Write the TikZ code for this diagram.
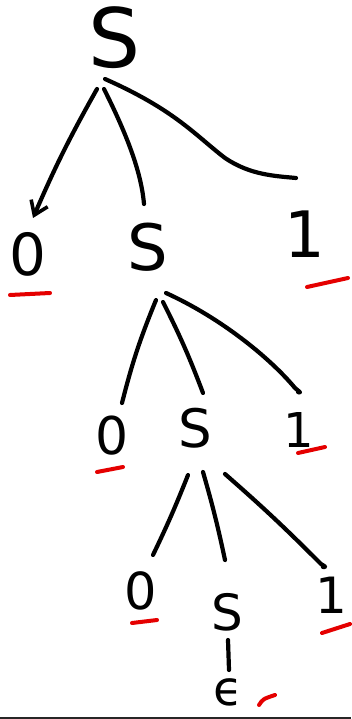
\documentclass[tikz,border=0pt]{standalone}
\usepackage{fontspec}
\setmainfont{DejaVu Sans}
\usetikzlibrary{arrows.meta}
\tikzset{
  sym/.style={inner sep=0pt, outer sep=0pt, anchor=center, text=black},
  edge/.style={line width=4.2pt, line cap=round, line join=round, black},
  redmark/.style={line width=4pt, line cap=round, red!90!black},
}
\newcommand{\fs}[1]{\fontsize{#1}{#1}\selectfont}
\begin{document}
\begin{tikzpicture}[x=1pt,y=-1pt]
\useasboundingbox (0,0) rectangle (351,719);
\fill[white] (0,0) rectangle (351,719);
% nodes
\node[sym] (s0) at (115,38) {\fs{82}S};
\node[sym] (a0) at (28,254) {\fs{58}0};
\node[sym] (a1) at (148,247) {\fs{64}S};
\node[sym] (a2) at (305,234) {\fs{64}1};
\node[sym] (b0) at (112,436) {\fs{52}0};
\node[sym] (b1) at (195,428) {\fs{53}S};
\node[sym] (b2) at (299,430) {\fs{48}1};
\node[sym] (c0) at (141,591) {\fs{51}0};
\node[sym] (c1) at (227,612) {\fs{50}S};
\node[sym] (c2) at (331,595) {\fs{50}1};
\node[sym] (e) at (228,692) {\fs{48}ϵ};
% level 1 edges
\draw[edge,-{Straight Barb[length=13pt,width=18pt,line width=3.6pt]}]
  ([shift={(-18,51)}]s0.center) to[bend right=3] ([shift={(5,-36)}]a0.center);
\draw[edge] ([shift={(-11,51)}]s0.center) .. controls +(20,40) and +(-3,-35) .. ([shift={(-4,-43)}]a1.center);
\draw[edge] ([shift={(-10,41)}]s0.center) .. controls (175,110) and (195,135) .. (225,158)
  .. controls (250,175) and (275,176) .. ([shift={(-9,-56)}]a2.center);
% level 2 edges
\draw[edge] ([shift={(8,53)}]a1.center) to[bend right=4] ([shift={(10,-33)}]b0.center);
\draw[edge] ([shift={(15,55)}]a1.center) to[bend left=3] ([shift={(8,-35)}]b1.center);
\draw[edge] ([shift={(18,46)}]a1.center) .. controls +(55,25) and +(-25,-30) .. ([shift={(-4,-42)}]b2.center)
  .. controls +(6,5) .. ([shift={(-1,-38)}]b2.center);
% level 3 edges
\draw[edge] ([shift={(-7,47)}]b1.center) to[bend left=2] ([shift={(12,-36)}]c0.center);
\draw[edge] ([shift={(8,44)}]b1.center) to[bend left=2] ([shift={(-2,-52)}]c1.center);
\draw[edge] ([shift={(30,46)}]b1.center) .. controls +(40,35) and +(-35,-35) .. ([shift={(-10,-31)}]c2.center)
  .. controls +(5,3) .. ([shift={(-8,-28)}]c2.center);
% epsilon edge
\draw[edge] ([shift={(1,28)}]c1.center) -- ([shift={(1,-22)}]e.center);
% red underlines
\draw[redmark] ([shift={(-18,41)}]a0.center) -- ([shift={(22,39)}]a0.center);
\draw[redmark] ([shift={(2,53)}]a2.center) -- ([shift={(43,44)}]a2.center);
\draw[redmark] ([shift={(-15,36)}]b0.center) -- ([shift={(11,31)}]b0.center);
\draw[redmark] ([shift={(-1,23)}]b2.center) -- ([shift={(26,17)}]b2.center);
\draw[redmark] ([shift={(-9,32)}]c0.center) -- ([shift={(16,29)}]c0.center);
\draw[redmark] ([shift={(-9,38)}]c2.center) -- ([shift={(19,29)}]c2.center);
\draw[redmark] ([shift={(31,13)}]e.center) .. controls +(4,-6) .. ([shift={(47,3)}]e.center);
% bottom rule
\draw[line width=1.6pt, black!85] (0,718) -- (351,718);
\end{tikzpicture}
\end{document}
